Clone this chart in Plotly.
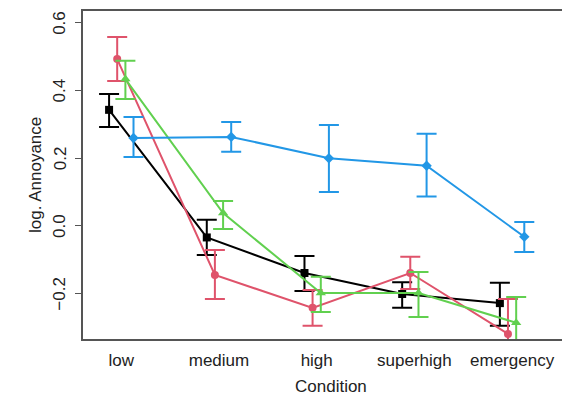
import plotly.graph_objects as go

# Conditions on the x axis
conditions = ["low", "medium", "high", "superhigh", "emergency"]
cond_pos = [1, 2, 3, 4, 5]
y_ticks = [-0.2, 0.0, 0.2, 0.4, 0.6]
y_tick_text = ["\u22120.2", "0.0", "0.2", "0.4", "0.6"]

# Group means of log. Annoyance with upper / lower error limits
black_mean = [0.343, -0.034, -0.139, -0.201, -0.228]
black_hi = [0.390, 0.018, -0.089, -0.166, -0.168]
black_lo = [0.292, -0.086, -0.192, -0.242, -0.295]

red_mean = [0.493, -0.145, -0.242, -0.139, -0.319]
red_hi = [0.558, -0.071, -0.189, -0.091, -0.216]
red_lo = [0.428, -0.216, -0.295, -0.186, -0.420]

green_mean = [0.434, 0.038, -0.198, -0.198, -0.286]
green_hi = [0.488, 0.074, -0.150, -0.136, -0.210]
green_lo = [0.375, -0.009, -0.254, -0.269, -0.360]

blue_mean = [0.260, 0.263, 0.200, 0.178, -0.032]
blue_hi = [0.322, 0.307, 0.298, 0.272, 0.012]
blue_lo = [0.204, 0.219, 0.100, 0.087, -0.077]

# horizontal dodge of each group around the category position
dodge = [-0.125, -0.042, 0.042, 0.125]

series = [
    ("black", black_mean, black_hi, black_lo, "#000000", "square", 8),
    ("red", red_mean, red_hi, red_lo, "#DF536B", "circle", 8),
    ("green", green_mean, green_hi, green_lo, "#61D04F", "triangle-up", 9),
    ("blue", blue_mean, blue_hi, blue_lo, "#2297E6", "diamond", 8),
]

fig = go.Figure()
for (name, mean, hi, lo, color, symbol, size), dx in zip(series, dodge):
    xs = [p + dx for p in cond_pos]
    fig.add_trace(go.Scatter(
        x=xs, y=mean, name=name, mode="lines+markers",
        line=dict(color=color, width=2),
        marker=dict(symbol=symbol, size=size, color=color),
        error_y=dict(type="data", symmetric=False,
                     array=[h - m for h, m in zip(hi, mean)],
                     arrayminus=[m - l for m, l in zip(mean, lo)],
                     color=color, thickness=2, width=10),
        showlegend=False,
    ))

font_family = "Liberation Sans, Arial, sans-serif"
text_color = "#222222"
label_font = dict(family=font_family, size=17, color=text_color)

# vertical y tick labels, set parallel to the axis
for v, t in zip(y_ticks, y_tick_text):
    fig.add_annotation(x=0, xref="paper", y=v, yref="y", text=t,
                       textangle=-90, showarrow=False, xanchor="center",
                       yanchor="middle", xshift=-23, font=label_font)

# axis titles
fig.add_annotation(x=0, xref="paper", y=0.5, yref="paper",
                   text="log. Annoyance", textangle=-90, showarrow=False,
                   xanchor="center", yanchor="middle", xshift=-48,
                   font=label_font)
fig.add_annotation(x=0.518, xref="paper", y=0, yref="paper",
                   text="Condition", showarrow=False, borderpad=0,
                   xanchor="center", yanchor="middle", yshift=-47,
                   font=label_font)

fig.update_layout(
    width=562, height=395,
    margin=dict(l=83, r=0, t=11, b=56),
    plot_bgcolor="white", paper_bgcolor="white",
    font=label_font,
    xaxis=dict(
        range=[0.608, 5.511], tickvals=cond_pos, ticktext=conditions,
        showline=True, mirror=True, linecolor="#555555", linewidth=1.5,
        ticks="", ticklabelstandoff=5, showgrid=False, zeroline=False,
        automargin=False,
    ),
    yaxis=dict(
        range=[-0.334, 0.635], tickvals=y_ticks, showticklabels=False,
        showline=True, linecolor="#555555", linewidth=1.5,
        ticks="outside", ticklen=6, tickcolor="#555555", tickwidth=1.2,
        showgrid=False, zeroline=False, automargin=False,
    ),
)

fig.write_html("out.html")
